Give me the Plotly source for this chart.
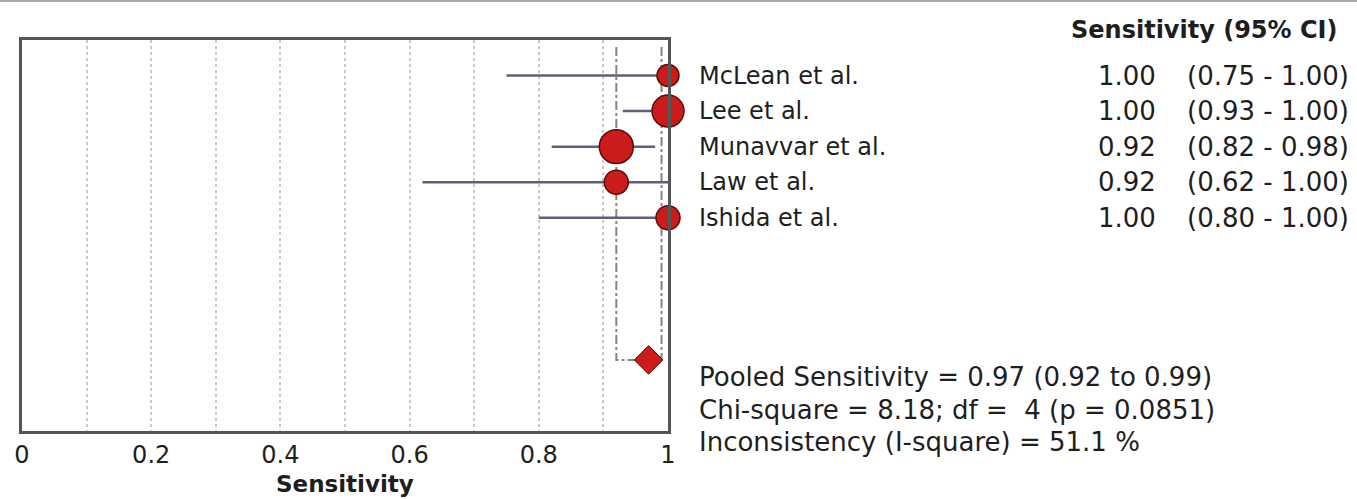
import plotly.graph_objects as go

# ---- data ----
studies = ["McLean et al.", "Lee et al.", "Munavvar et al.", "Law et al.", "Ishida et al."]
sens = [1.00, 1.00, 0.92, 0.92, 1.00]
ci_low = [0.75, 0.93, 0.82, 0.62, 0.80]
ci_high = [1.00, 1.00, 0.98, 1.00, 1.00]
weights = [12.7, 26.8, 30.3, 15.1, 15.1]  # relative study weights (%)
pooled = 0.97
pooled_low = 0.92
pooled_high = 0.99
stats_lines = [
    "Pooled Sensitivity = 0.97 (0.92 to 0.99)",
    "Chi-square = 8.18; df =  4 (p = 0.0851)",
    "Inconsistency (I-square) = 51.1 %",
]
tick_vals = [0, 0.2, 0.4, 0.6, 0.8, 1]
tick_text = ["0", "0.2", "0.4", "0.6", "0.8", "1"]

FONT = "DejaVu Sans"
W, H = 1357, 499
L, R, T, B = 22, 689, 40, 68
pw = W - L - R
ph = H - T - B

n = len(studies)
rows = list(range(1, n + 1))
pooled_row = n + 4
n_rows = n + 6


def px_to_paper_x(px):
    return (px - L) / pw


def px_to_paper_y(py):
    return (H - B - py) / ph


fig = go.Figure()

# pooled CI bracket lines
for xv in (pooled_low, pooled_high):
    fig.add_trace(go.Scatter(
        x=[xv, xv, pooled], y=[0.2, pooled_row, pooled_row],
        mode="lines", line=dict(color="#858585", width=2, dash="dashdot"),
        showlegend=False, hoverinfo="skip"))

# study estimates with CIs
fig.add_trace(go.Scatter(
    x=sens, y=rows, mode="markers", cliponaxis=False,
    marker=dict(size=[6.17 * w ** 0.5 for w in weights], color="#cc1b1b", opacity=1,
                line=dict(color="#5c0b0b", width=1.5)),
    error_x=dict(type="data", symmetric=False,
                 array=[h - s for h, s in zip(ci_high, sens)],
                 arrayminus=[s - l for s, l in zip(sens, ci_low)],
                 color="#5e5e7c", thickness=2.5, width=0),
    showlegend=False, hoverinfo="skip",
))

# pooled diamond
fig.add_trace(go.Scatter(
    x=[pooled], y=[pooled_row], mode="markers", cliponaxis=False,
    marker=dict(symbol="diamond", size=22, color="#cc1b1b", opacity=1,
                line=dict(color="#5c0b0b", width=1)),
    showlegend=False, hoverinfo="skip"))

TXT = "#1e1e1e"
annotations = []
# header
annotations.append(dict(x=px_to_paper_x(1339), y=px_to_paper_y(30), xref="paper", yref="paper",
                        text="<b>Sensitivity (95% CI)</b>", showarrow=False,
                        xanchor="right", yanchor="middle",
                        font=dict(family=FONT, size=24, color=TXT)))
for i, name in enumerate(studies):
    annotations.append(dict(x=px_to_paper_x(697), y=rows[i], xref="paper", yref="y",
                            text=name, showarrow=False, xanchor="left", yanchor="middle",
                            font=dict(family=FONT, size=24, color=TXT)))
    annotations.append(dict(x=px_to_paper_x(1158), y=rows[i], xref="paper", yref="y",
                            text=f"{sens[i]:.2f}", showarrow=False, xanchor="right",
                            yanchor="middle", font=dict(family=FONT, size=26, color=TXT)))
    annotations.append(dict(x=px_to_paper_x(1351), y=rows[i], xref="paper", yref="y",
                            text=f"({ci_low[i]:.2f} - {ci_high[i]:.2f})", showarrow=False,
                            xanchor="right", yanchor="middle",
                            font=dict(family=FONT, size=26, color=TXT)))
for j, line in enumerate(stats_lines):
    annotations.append(dict(x=px_to_paper_x(697), y=px_to_paper_y(377 + j * 32.5),
                            xref="paper", yref="paper",
                            text=line, showarrow=False, xanchor="left", yanchor="middle",
                            font=dict(family=FONT, size=26, color=TXT)))
# axis title
annotations.append(dict(x=0.5, y=px_to_paper_y(484), xref="paper", yref="paper",
                        text="<b>Sensitivity</b>", showarrow=False,
                        xanchor="center", yanchor="middle",
                        font=dict(family=FONT, size=23, color=TXT)))

fig.update_layout(
    width=W, height=H,
    margin=dict(l=L, r=R, t=T, b=B, pad=0),
    paper_bgcolor="white", plot_bgcolor="white",
    annotations=annotations,
    shapes=[dict(type="line", xref="paper", yref="paper",
                 x0=px_to_paper_x(0), x1=px_to_paper_x(W),
                 y0=px_to_paper_y(1), y1=px_to_paper_y(1),
                 line=dict(color="#a8a8a8", width=2))],
)

fig.update_xaxes(
    range=[0, 1], tickmode="array",
    tickvals=[k / 10 for k in range(11)],
    ticktext=[tick_text[tick_vals.index(round(k / 10, 1))] if round(k / 10, 1) in tick_vals else ""
              for k in range(11)],
    showgrid=True, gridcolor="#c9c9c9", griddash="dot", gridwidth=1.5,
    showline=True, linecolor="#555", linewidth=2.5, mirror=True,
    ticks="", zeroline=False,
    tickfont=dict(family=FONT, size=24, color=TXT),
)
fig.update_yaxes(
    range=[n_rows, 0], showgrid=False, showticklabels=False, ticks="",
    showline=True, linecolor="#555", linewidth=2.5, mirror=True, zeroline=False,
)

fig.write_html("out.html", config={"displayModeBar": False},
               post_script="document.body.style.margin='0';")
